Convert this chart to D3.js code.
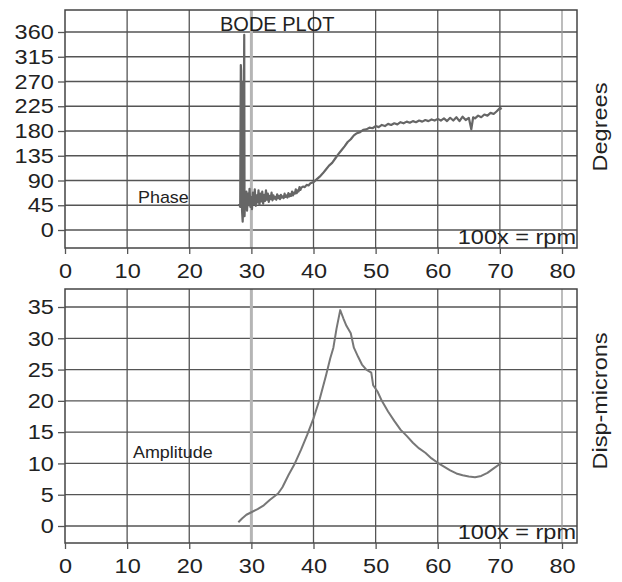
<!DOCTYPE html>
<html>
<head>
<meta charset="utf-8">
<script src="https://cdn.jsdelivr.net/npm/d3@7"></script>
<style>
  body { margin: 0; background: #fff; }
  svg text { font-family: "Liberation Sans", Arial, sans-serif; fill: #222; }
</style>
</head>
<body>
<script>
// Tick labels
const rpmTicks = [0, 10, 20, 30, 40, 50, 60, 70, 80];
const phaseTicks = [0, 45, 90, 135, 180, 225, 270, 315, 360];
const ampTicks = [0, 5, 10, 15, 20, 25, 30, 35];

// Phase trace (x in 100 rpm, degrees)
const phaseRpm = [28.0, 28.2, 28.3, 28.35, 28.4, 28.45, 28.5, 28.6, 28.7, 28.85, 28.9,
  29.0, 29.1, 29.2, 29.3, 29.45, 29.6, 29.7, 29.85, 30.0, 30.1, 30.25, 30.4, 30.55, 30.7, 30.85,
  31.0, 31.15, 31.3, 31.45, 31.6, 31.75, 31.9, 32.05, 32.2, 32.35, 32.5, 32.65, 32.8, 32.95,
  33.1, 33.25, 33.4, 33.55, 33.7, 33.85, 34.0, 34.15, 34.3, 34.45, 34.6, 34.75, 34.9,
  35.05, 35.2, 35.35, 35.5, 35.65, 35.8, 35.95, 36.1, 36.25, 36.4, 36.55, 36.7, 36.85,
  37.0, 37.15, 37.3, 37.45, 37.6, 37.75, 37.9, 38.05, 38.3, 38.6, 38.9, 39.2, 39.5,
  40.0, 40.5, 41.0, 41.5, 42.0, 42.5, 43.0, 43.5, 44.0, 44.5, 45.0, 45.5, 46.0, 46.5,
  47.0, 47.5, 48.0, 48.5, 49.0, 49.5,
  50, 50.5, 51, 51.5, 52, 52.5, 53, 53.5, 54, 54.5, 55, 55.5, 56, 56.5, 57, 57.5, 58, 58.5,
  59, 59.5, 60, 60.5, 61, 61.5, 62, 62.5, 63, 63.5, 64, 64.5, 65, 65.4, 65.7, 66, 66.5,
  67, 67.5, 68, 68.5, 69, 69.5, 70, 70.3];
const phaseDeg = [48, 42, 300, 290, 60, 270, 35, 15, 55, 355, 25,
  62, 40, 70, 35, 66, 45, 75, 42, 60, 38, 68, 47, 74, 44, 63,
  50, 72, 46, 66, 52, 70, 48, 64, 53, 72, 55, 66, 51, 62,
  56, 68, 54, 63, 57, 60, 55, 65, 58, 62, 56, 64, 59,
  61, 58, 66, 60, 63, 59, 67, 61, 65, 62, 70, 63, 68,
  66, 74, 67, 72, 70, 78, 73, 77, 79, 78, 82, 81, 85,
  87, 92, 97, 103, 110, 117, 122, 130, 138, 145, 152, 160, 165, 172,
  176, 178, 182, 183, 186, 185,
  189, 187, 191, 189, 193, 191, 194, 192, 196, 194, 197, 195, 198, 196, 199, 197, 200, 198,
  201, 199, 202, 199, 203, 198, 204, 199, 205, 198, 206, 200, 204, 183, 205, 203, 208,
  205, 210, 208, 213, 211, 216, 222, 220];

// Amplitude trace (x in 100 rpm, microns)
const ampRpm = [27.9, 28.5, 29.2, 30, 31, 32, 33, 34.3, 35, 36, 37, 38, 39, 40, 41, 42,
  42.7, 43.2, 43.7, 44.3, 44.8, 45.3, 46.0, 46.5, 47.2, 47.8, 48.5, 49.3, 49.6, 50.3,
  51, 52, 53, 54, 55, 56, 57, 58, 59, 60, 61, 62, 63, 64, 65, 66, 67, 68, 69, 70, 70.3];
const ampMicrons = [0.6, 1.2, 1.8, 2.2, 2.7, 3.3, 4.2, 5.2, 6.2, 8.2, 10, 12.2, 14.6, 17.2, 20.3, 24,
  26.8, 28.5, 31.5, 34.5, 33.2, 32, 30.8, 28.5, 27, 25.8, 25, 24.5, 22.5, 21.5,
  20, 18.3, 16.8, 15.4, 14.4, 13.3, 12.4, 11.7, 10.8, 10.1, 9.5, 8.9, 8.4, 8.1, 7.9, 7.8, 8.0, 8.5, 9.2, 9.9, 10.2];

const width = 622;
const height = 582;
const frameLeft = 65, frameRight = 577;
const wide = 1.12; // the scanned lettering is a bit wider than Arial

const svg = d3.select("body")
  .append("svg")
  .attr("width", width)
  .attr("height", height);

const x = d3.scaleLinear().domain([0, 80]).range([65, 562]);

// one panel: frame, grid, axes, trace
function panel(opts) {
  const g = svg.append("g");
  const y = opts.y;

  // horizontal grid
  g.selectAll(".hgrid")
    .data(opts.yTicks)
    .enter()
    .append("line")
    .attr("x1", frameLeft)
    .attr("x2", frameRight)
    .attr("y1", d => y(d))
    .attr("y2", d => y(d))
    .attr("stroke", "#555")
    .attr("stroke-width", 1.3);

  // vertical grid
  g.selectAll(".vgrid")
    .data(rpmTicks.filter(d => d > 0))
    .enter()
    .append("line")
    .attr("x1", d => x(d))
    .attr("x2", d => x(d))
    .attr("y1", opts.top)
    .attr("y2", opts.bottom)
    .attr("stroke", d => d === 30 ? "#b5b5b5" : (d === 80 ? "#999" : "#555"))
    .attr("stroke-width", d => d === 30 ? 3 : 1.3);

  // frame
  g.append("rect")
    .attr("x", frameLeft)
    .attr("y", opts.top)
    .attr("width", frameRight - frameLeft)
    .attr("height", opts.bottom - opts.top)
    .attr("fill", "none")
    .attr("stroke", "#444")
    .attr("stroke-width", 1.5);

  // axes
  const yAxis = g.append("g")
    .attr("transform", `translate(${frameLeft},0)`)
    .call(d3.axisLeft(y).tickValues(opts.yTicks).tickSize(7).tickPadding(3));
  const xAxis = g.append("g")
    .attr("transform", `translate(0,${opts.bottom})`)
    .call(d3.axisBottom(x).tickValues(rpmTicks).tickSize(6).tickPadding(9));

  [yAxis, xAxis].forEach(a => {
    a.select(".domain").remove();
    a.selectAll(".tick line").attr("stroke", "#555").attr("stroke-width", 1.3);
    a.selectAll("text")
      .attr("fill", "#222")
      .attr("transform", `scale(${wide},1)`)
      .style("font-size", "21px")
      .style("font-family", "'Liberation Sans', Arial, sans-serif");
  });

  // trace
  const line = d3.line()
    .x(d => x(d[0]))
    .y(d => y(d[1]));
  g.append("path")
    .datum(d3.zip(opts.xs, opts.ys))
    .attr("d", line)
    .attr("fill", "none")
    .attr("stroke", opts.color)
    .attr("stroke-width", opts.lw)
    .attr("stroke-linejoin", "round");

  // "100x = rpm"
  g.append("text")
    .attr("transform", `translate(${frameRight - 1},${opts.bottom - 4}) scale(${wide},1)`)
    .attr("text-anchor", "end")
    .style("font-size", "21px")
    .text("100x = rpm");

  // trace label
  g.append("text")
    .attr("transform", `translate(${opts.labelX},${opts.labelY}) scale(${wide},1)`)
    .style("font-size", "16px")
    .text(opts.label);

  // side title
  g.append("text")
    .attr("transform", `translate(607,${opts.titleY}) rotate(-90) scale(${wide},1)`)
    .attr("text-anchor", "middle")
    .style("font-size", "21px")
    .text(opts.title);
}

panel({
  top: 10, bottom: 248,
  y: d3.scaleLinear().domain([0, 360]).range([230, 32]),
  yTicks: phaseTicks,
  xs: phaseRpm, ys: phaseDeg,
  color: "#666", lw: 2.2,
  label: "Phase", labelX: 138, labelY: 203,
  title: "Degrees", titleY: 127
});

panel({
  top: 289, bottom: 543,
  y: d3.scaleLinear().domain([0, 35]).range([526, 307]),
  yTicks: ampTicks,
  xs: ampRpm, ys: ampMicrons,
  color: "#777", lw: 2,
  label: "Amplitude", labelX: 133, labelY: 458,
  title: "Disp-microns", titleY: 401
});

// chart title
svg.append("text")
  .attr("x", 220)
  .attr("y", 31)
  .style("font-size", "20px")
  .text("BODE PLOT");
</script>
</body>
</html>
